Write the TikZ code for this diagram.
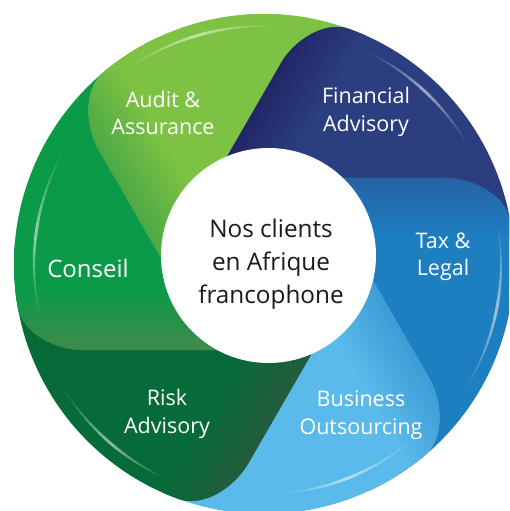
\documentclass[tikz,border=0pt]{standalone}
\usepackage{fontspec}
\setmainfont{Open Sans}
\usetikzlibrary{calc}
\definecolor{auditM}{HTML}{7DC242}
\definecolor{auditE}{HTML}{4DA947}
\definecolor{finM}{HTML}{2B3F80}
\definecolor{finE}{HTML}{222767}
\definecolor{taxM}{HTML}{1D7EC0}
\definecolor{taxE}{HTML}{2563A5}
\definecolor{busM}{HTML}{5ABAE9}
\definecolor{busE}{HTML}{3D9DD6}
\definecolor{riskM}{HTML}{066B38}
\definecolor{riskE}{HTML}{245C3D}
\definecolor{consM}{HTML}{0B9A48}
\definecolor{consE}{HTML}{3F8A4C}
\definecolor{ink}{HTML}{1A1A1A}
% blade: #1 rotation of its leading edge foot, #2 main colour, #3 edge colour
\newcommand\drawblade[3]{%
  \begin{scope}[rotate=#1]
    \clip (86,0) -- (86,-180) .. controls (86,-212.3) and (66.8,-242.1) .. (-80:250)
      arc[start angle=-80,end angle=-155,radius=250] -- (0,0) -- cycle;
    \fill[#2] (-300,-300) rectangle (300,300);
    \foreach \i in {0,...,19}{%
      \pgfmathsetmacro\pc{\i*5.26}%
      \fill[#3!\pc!#2] ({25+3.05*\i},-300) rectangle ({25+3.05*(\i+1)+0.6},300);
    }
    \fill[#3] (85.9,-300) rectangle (300,300);
  \end{scope}}
% glossy highlight: #1 centre angle, #2 radius, #3 half span (deg)
\newcommand\gloss[3]{%
  \foreach \k in {-10,...,9}{%
    \pgfmathsetmacro\op{0.55*(1-abs(\k+0.5)/10)}%
    \pgfmathsetmacro\lw{0.8+2.2*(1-abs(\k+0.5)/10)}%
    \draw[white, opacity=\op, line width=\lw pt]
      ({#1+\k*#3/10}:#2) arc[start angle={#1+\k*#3/10}, end angle={#1+(\k+1)*#3/10}, radius=#2];
  }}
\tikzset{
  lab/.style={text=white, align=center, inner sep=0pt, font=\fontsize{21.5}{27.5}\selectfont},
  centre/.style={text=ink, align=center, inner sep=0pt, font=\fontsize{24.3}{33}\selectfont}
}
\begin{document}
\begin{tikzpicture}[x=1pt,y=1pt]
\useasboundingbox (-264,-247) rectangle (245,264);
\clip (-264,-247) rectangle (245,264);
\begin{scope}
  \clip (0,0) circle (250);
  \drawblade{210}{auditM}{auditE}
  \drawblade{150}{finM}{finE}
  \drawblade{90}{taxM}{taxE}
  \drawblade{30}{busM}{busE}
  \drawblade{-30}{riskM}{riskE}
  \drawblade{-90}{consM}{consE}
  \begin{scope}
    \clip[rotate=150] (86,-600) rectangle (700,600);
    \drawblade{210}{auditM}{auditE}
  \end{scope}
  \gloss{172}{230}{22}
  \gloss{106}{238}{20}
  \gloss{47}{236}{17}
  \gloss{-11}{237}{22}
  \gloss{-68}{230}{18}
  \gloss{229}{236}{17}
\end{scope}
\fill[white] (4.5,8.5) circle (107.5);
\node[centre] (hub) at (7,0) {Nos clients\\en Afrique\\francophone};
\node[lab] (audit) at (-101,151) {Audit \&\\Assurance};
\node[lab] (fin) at (102,152) {Financial\\Advisory};
\node[lab] (tax) at (179,7) {Tax \&\\Legal};
\node[lab] (bus) at (97,-151) {Business\\Outsourcing};
\node[lab] (risk) at (-97,-150) {Risk\\Advisory};
\node[lab, font=\fontsize{24}{30}\selectfont] (cons) at (-176,-4) {Conseil};
\end{tikzpicture}
\end{document}
